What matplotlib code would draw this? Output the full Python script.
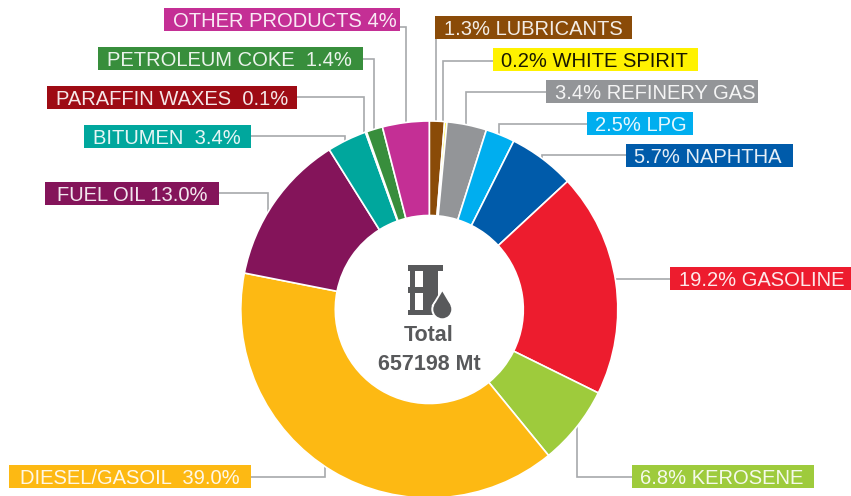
import matplotlib
matplotlib.use('Agg')
import matplotlib.pyplot as plt
from matplotlib.patches import Rectangle, Circle, Polygon

products = ["LUBRICANTS", "WHITE SPIRIT", "REFINERY GAS", "LPG", "NAPHTHA", "GASOLINE", "KEROSENE",
            "DIESEL/GASOIL", "FUEL OIL", "BITUMEN", "PARAFFIN WAXES", "PETROLEUM COKE", "OTHER PRODUCTS"]
shares = [1.3, 0.2, 3.4, 2.5, 5.7, 19.2, 6.8, 39.0, 13.0, 3.4, 0.1, 1.4, 4.0]
colors = ["#8a4b08", "#fff200", "#939598", "#00aeef", "#005baa", "#ed1c2e", "#9ecb3c",
          "#fdb913", "#84145a", "#00a79d", "#9e0b14", "#388e3c", "#c42f95"]
label_texts = ["1.3% LUBRICANTS", "0.2% WHITE SPIRIT", "3.4% REFINERY GAS", "2.5% LPG", "5.7% NAPHTHA",
               "19.2% GASOLINE", "6.8% KEROSENE", "DIESEL/GASOIL  39.0%", "FUEL OIL 13.0%", "BITUMEN  3.4%",
               "PARAFFIN WAXES  0.1%", "PETROLEUM COKE  1.4%", "OTHER PRODUCTS 4%"]
total_text = ["Total", "657198 Mt"]

W, H = 851, 496
GREY = '#58595b'


def py(y):
    # picture pixels are counted from the top
    return H - y


fig = plt.figure(figsize=(W / 100, H / 100), dpi=100)
ax = fig.add_axes([0, 0, 1, 1])
ax.set_xlim(0, W)
ax.set_ylim(0, H)
ax.axis('off')

# box: left, top, right, bottom in picture pixels
boxes = [(435, 16, 632, 39), (493, 48, 698, 71), (546, 80, 758, 103), (587, 112, 693, 135),
         (626, 144, 793, 167), (670, 267, 851, 290), (632, 465, 814, 488), (9, 465, 251, 488),
         (45, 182, 219, 205), (84, 125, 251, 148), (47, 86, 297, 109), (98, 47, 363, 70),
         (164, 8, 400, 31)]
insets = [9, 8, 9, 8, 8, 9, 8, 11, 12, 9, 9, 9, 9]
leaders = [[(435.5, 39), (435.5, 124)],
           [(493, 60.5), (443, 60.5), (443, 125)],
           [(546, 92), (466, 92), (466, 127)],
           [(587, 123.5), (499, 123.5), (499, 135)],
           [(626, 155), (542, 155), (542, 162)],
           [(670, 278.5), (612, 278.5)],
           [(632, 476.5), (577, 476.5), (577, 425)],
           [(251, 476.5), (325, 476.5), (325, 462)],
           [(219, 193), (268, 193), (268, 214)],
           [(251, 136), (345, 136), (345, 144)],
           [(297, 97), (364, 97), (364, 135)],
           [(363, 59), (373.5, 59), (373.5, 133)],
           [(400, 27), (406, 27), (406, 125)]]

for pts in leaders:
    ax.plot([p[0] for p in pts], [py(p[1]) for p in pts], color='#a7a9ac', lw=1.2, zorder=1,
            solid_joinstyle='miter')

ax.pie(shares, colors=colors, startangle=90, counterclock=False, center=(429.3, py(309.5)), radius=188.5,
       wedgeprops=dict(width=94.5, edgecolor='white', linewidth=1.2), frame=True)
ax.set_xlim(0, W)
ax.set_ylim(0, H)
ax.set_aspect('auto')
ax.axis('off')

for txt, col, b, inset in zip(label_texts, colors, boxes, insets):
    ax.add_patch(Rectangle((b[0], py(b[3])), b[2] - b[0], b[3] - b[1], facecolor=col, edgecolor='none', zorder=3))
    tc = 'black' if col == '#fff200' else 'white'
    ax.text(b[0] + inset, py((b[1] + b[3]) / 2), txt, color=tc, fontsize=14.5, ha='left', va='center_baseline',
            family='Liberation Sans', zorder=4, alpha=0.9)

# barrel icon
for r in [(408, 265, 443, 271), (410, 271, 415, 310), (408, 287, 433, 293), (408, 310, 433, 315), (423, 271, 438, 315)]:
    ax.add_patch(Rectangle((r[0], py(r[3])), r[2] - r[0], r[3] - r[1], facecolor=GREY, edgecolor='none', zorder=3))
ax.add_patch(Circle((442.3, py(309.3)), 11, facecolor='white', edgecolor='none', zorder=4))
ax.add_patch(Polygon([(442.3, py(288)), (431.5, py(306)), (453, py(306))], facecolor='white', edgecolor='none', zorder=4))
ax.add_patch(Circle((442.3, py(309.3)), 9, facecolor=GREY, edgecolor='none', zorder=5))
ax.add_patch(Polygon([(442.3, py(291.5)), (434, py(305.5)), (450.6, py(305.5))], facecolor=GREY, edgecolor='none', zorder=5))

ax.text(429, py(333), total_text[0], color=GREY, fontsize=15.5, fontweight='bold', ha='center', va='center_baseline',
        family='Liberation Sans', zorder=5)
ax.text(429, py(362), total_text[1], color=GREY, fontsize=15.5, fontweight='bold', ha='center', va='center_baseline',
        family='Liberation Sans', zorder=5)

fig.savefig('out.png', dpi=100)
